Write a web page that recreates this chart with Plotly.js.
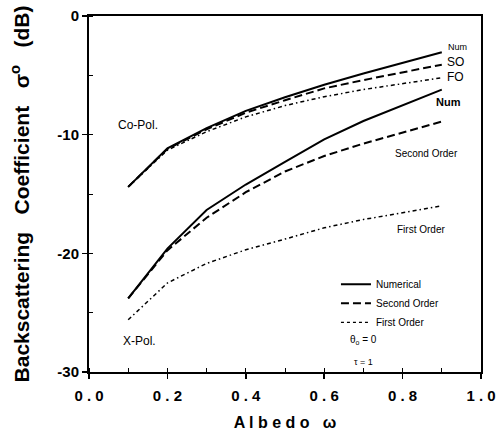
<!DOCTYPE html>
<html><head><meta charset="utf-8">
<script src="https://cdn.plot.ly/plotly-3.0.1.min.js"></script>
<style>html,body{margin:0;padding:0;background:#fff}#plot{width:498px;height:433px}</style>
</head><body><div id="plot"></div>
<script>
const albedo = [0.1, 0.2, 0.3, 0.4, 0.5, 0.6, 0.7, 0.8, 0.9];
const coNumerical = [-14.4, -11.15, -9.45, -8.0, -6.85, -5.8, -4.85, -3.95, -3.05];
const coSecond = [-14.4, -11.2, -9.55, -8.15, -7.1, -6.1, -5.4, -4.75, -4.1];
const coFirst = [-14.4, -11.3, -9.75, -8.5, -7.55, -6.8, -6.2, -5.7, -5.2];
const xNumerical = [-23.8, -19.6, -16.35, -14.2, -12.3, -10.4, -8.85, -7.5, -6.2];
const xSecond = [-23.8, -19.75, -17.0, -14.85, -13.1, -11.8, -10.75, -9.8, -8.9];
const xFirst = [-25.6, -22.5, -20.85, -19.7, -18.8, -17.85, -17.15, -16.55, -16.0];
const legendNames = ['Numerical', 'Second Order', 'First Order'];
const xTicks = [0.0, 0.2, 0.4, 0.6, 0.8, 1.0];
const yTicks = [0, -10, -20, -30];

const solid = {color: '#000', width: 2, dash: 'solid'};
const dashed = {color: '#000', width: 2, dash: '8px,4px'};
const dashdot = {color: '#000', width: 1.5, dash: '4px,3px,1.5px,3px'};
const dotted = {color: '#000', width: 1.3, dash: 'dot'};

function tr(y, line) {
  return {x: albedo, y: y, mode: 'lines', line: line, showlegend: false, hoverinfo: 'skip'};
}
const data = [
  tr(coNumerical, solid), tr(coSecond, dashed), tr(coFirst, dashdot),
  tr(xNumerical, solid), tr(xSecond, dashed), tr(xFirst, dashdot),
  {x: [null], y: [null], mode: 'lines', line: solid, name: legendNames[0], showlegend: true},
  {x: [null], y: [null], mode: 'lines', line: dashed, name: legendNames[1], showlegend: true},
  {x: [null], y: [null], mode: 'lines', line: dotted, name: legendNames[2], showlegend: true}
];

const F = '"Liberation Sans", Arial, Helvetica, sans-serif';
function ann(x, y, text, size, extra) {
  return Object.assign({x: x, y: y, xref: 'x', yref: 'y', text: text, showarrow: false,
    font: {family: F, size: size, color: '#000'}}, extra || {});
}
const layout = {
  width: 498, height: 433,
  margin: {l: 89, r: 17, t: 16, b: 61},
  paper_bgcolor: '#fff', plot_bgcolor: '#fff',
  font: {family: F, color: '#000'},
  xaxis: {
    range: [0, 1], tickvals: xTicks, ticktext: xTicks.map(v => v.toFixed(1).split('').join(' ')),
    ticks: 'outside', ticklen: 5, tickwidth: 1.5, tickcolor: '#000', ticklabelstandoff: 4,
    minor: {dtick: 0.1, ticks: 'inside', ticklen: 4, tickwidth: 1, tickcolor: '#000'},
    showline: true, linewidth: 2, linecolor: '#000', mirror: true,
    showgrid: false, zeroline: false,
    tickfont: {family: F, size: 15, weight: 'bold', color: '#000'},
    title: {text: 'A l b e d o   ω ', font: {family: F, size: 16, weight: 'bold', color: '#000'}, standoff: 14}
  },
  yaxis: {
    range: [-30, 0], tickvals: yTicks, ticktext: yTicks.map(String),
    ticks: 'outside', ticklen: 5, tickwidth: 1.5, tickcolor: '#000',
    minor: {dtick: 5, ticks: 'inside', ticklen: 4, tickwidth: 1, tickcolor: '#000'},
    showline: true, linewidth: 2, linecolor: '#000', mirror: true,
    showgrid: false, zeroline: false,
    tickfont: {family: F, size: 15, weight: 'bold', color: '#000'},
    title: {text: 'Backscattering   Coefficient   σ<sup>o</sup>   (dB)', font: {family: F, size: 21, weight: 'bold', color: '#000'}, standoff: 22}
  },
  legend: {x: 0.63, y: 0.287, xanchor: 'left', yanchor: 'top', bgcolor: 'rgba(0,0,0,0)',
    font: {family: F, size: 10, color: '#000'}, itemwidth: 30, tracegroupgap: 0},
  annotations: [
    ann(0.941, -2.6, 'Num', 9),
    ann(0.936, -3.9, 'SO', 12),
    ann(0.934, -5.15, 'FO', 12),
    ann(0.918, -7.25, 'Num', 11, {font: {family: F, size: 11, color: '#000', weight: 'bold'}}),
    ann(0.862, -11.55, 'Second Order', 10),
    ann(0.847, -17.95, 'First Order', 10),
    ann(0.125, -9.2, 'Co-Pol.', 12),
    ann(0.13, -27.4, 'X-Pol.', 12),
    ann(0.699, -27.3, 'θ<sub>o</sub> = 0', 10),
    ann(0.699, -29.15, 'τ = 1', 9)
  ]
};
Plotly.newPlot('plot', data, layout, {staticPlot: true, displayModeBar: false});
</script></body></html>
